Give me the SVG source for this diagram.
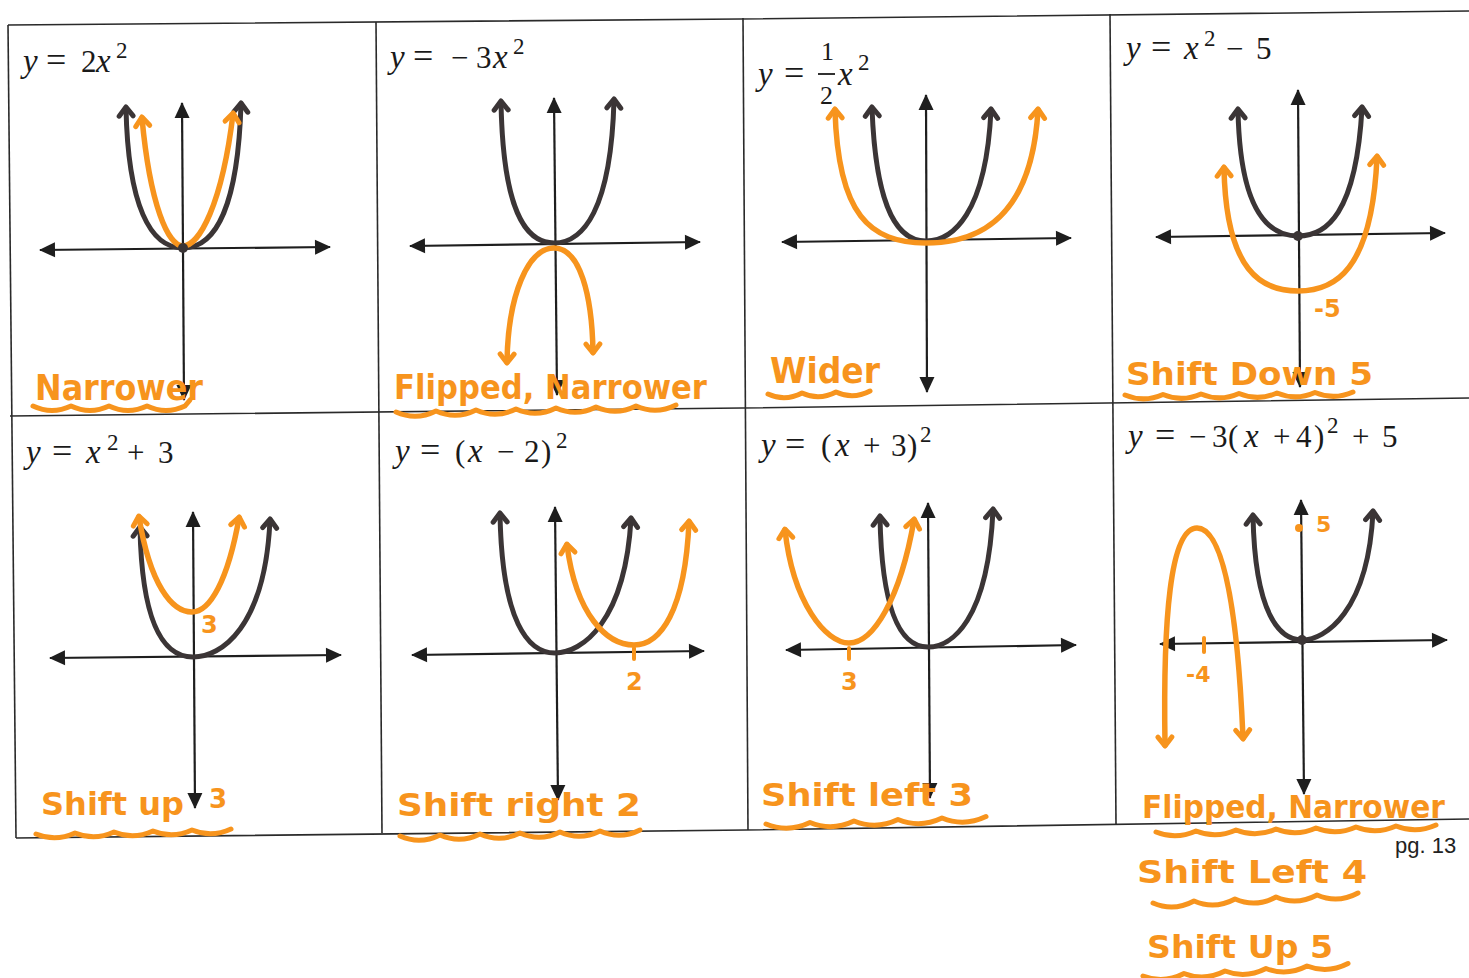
<svg xmlns="http://www.w3.org/2000/svg" width="1469" height="978" viewBox="0 0 1469 978">
<defs>
<style>
.grid{fill:none;stroke:#2a2a2a;stroke-width:1.6}
.ax{fill:none;stroke:#1e1e1e;stroke-width:2.2;marker-start:url(#axh);marker-end:url(#axh)}
.bk{fill:none;stroke:#3b3536;stroke-width:5;stroke-linecap:round;marker-start:url(#chb);marker-end:url(#chb)}
.or{fill:none;stroke:#f7941d;stroke-width:5.5;stroke-linecap:round;marker-start:url(#cho);marker-end:url(#cho)}
.sq{fill:none;stroke:#f7941d;stroke-width:5;stroke-linecap:round;stroke-linejoin:round}
.tk{stroke:#f7941d;stroke-width:4;stroke-linecap:round}
.eq{font-family:"Liberation Serif","DejaVu Serif",serif;font-size:31px;fill:#1a1a1a}
.i{font-style:italic;font-size:33px}
.e{font-size:36px}
.sup{font-size:23px}
.hw{font-family:"DejaVu Sans","Liberation Sans",sans-serif;font-weight:bold;fill:#f7941d}
.pg{font-family:"Liberation Sans","DejaVu Sans",sans-serif;font-size:22px;fill:#222}
</style>
<marker id="axh" markerUnits="userSpaceOnUse" markerWidth="20" markerHeight="20" refX="0" refY="0" orient="auto-start-reverse" overflow="visible"><path d="M1,0 L-15,-7.5 L-15,7.5 Z" fill="#1e1e1e"/></marker>
<marker id="chb" markerUnits="userSpaceOnUse" markerWidth="20" markerHeight="20" refX="0" refY="0" orient="auto-start-reverse" overflow="visible"><path d="M-8,-7 L1,0 L-8,7" fill="none" stroke="#3b3536" stroke-width="5" stroke-linecap="round" stroke-linejoin="round"/></marker>
<marker id="cho" markerUnits="userSpaceOnUse" markerWidth="20" markerHeight="20" refX="0" refY="0" orient="auto-start-reverse" overflow="visible"><path d="M-8,-7 L1,0 L-8,7" fill="none" stroke="#f7941d" stroke-width="5" stroke-linecap="round" stroke-linejoin="round"/></marker>
</defs>
<rect width="1469" height="978" fill="#ffffff"/>

<g id="table">
<polyline class="grid" points="8,25 740,19 1469,11"/>
<polyline class="grid" points="10,416 742,408 1469,398"/>
<polyline class="grid" points="16,838 746,830 1469,819"/>
<line class="grid" x1="8" y1="25" x2="16" y2="838"/>
<line class="grid" x1="376" y1="22" x2="382" y2="833"/>
<line class="grid" x1="743" y1="18" x2="748" y2="830"/>
<line class="grid" x1="1110" y1="14" x2="1116" y2="824"/>
</g>

<g id="cell1">
<text class="eq" y="72"><tspan x="23" class="i">y</tspan><tspan x="46" class="e">=</tspan><tspan x="81">2</tspan><tspan x="96" class="i">x</tspan><tspan x="116" y="58" class="sup">2</tspan></text>
<path class="ax" d="M40,250 L330,247"/>
<path class="ax" d="M182,103 L184,400"/>
<path class="bk" d="M126,108 C128,205 150,248 183,248 C216,248 238,205 241,104"/>
<path class="or" d="M142,118 C150,205 168,246 183,246 C199,246 222,205 233,114"/>
<circle cx="183" cy="248" r="5" fill="#3b3536"/>
<text class="hw" x="35" y="400" font-size="36" textLength="168" lengthAdjust="spacingAndGlyphs">Narrower</text>
<path class="sq" d="M33,406 q19,9 38,0 q19,9 38,0 q19,9 38,0 q19,9 38,0 l5,-6"/>
</g>

<g id="cell2">
<text class="eq" y="68"><tspan x="390" class="i">y</tspan><tspan x="413" class="e">=</tspan><tspan x="451">−</tspan><tspan x="476">3</tspan><tspan x="493" class="i">x</tspan><tspan x="513" y="54" class="sup">2</tspan></text>
<path class="ax" d="M410,246 L700,242"/>
<path class="ax" d="M554,98 L557,395"/>
<path class="bk" d="M501,102 C503,210 525,243 554,243 C583,243 611,210 614,100"/>
<path class="or" d="M507,362 C508,295 528,248 554,248 C580,248 592,295 593,352"/>
<text class="hw" x="394" y="399" font-size="34" textLength="313" lengthAdjust="spacingAndGlyphs">Flipped, Narrower</text>
<path class="sq" d="M396,412 q20,9 40,-1 q20,9 40,-1 q20,9 40,-1 q20,9 40,-1 q20,9 40,-1 q20,9 40,-1 q20,9 40,-1"/>
</g>

<g id="cell3">
<text class="eq" y="85"><tspan x="758" class="i">y</tspan><tspan x="784" class="e">=</tspan><tspan x="821" y="60" font-size="26">1</tspan><tspan x="820" y="104" font-size="26">2</tspan><tspan x="838" y="85" class="i">x</tspan><tspan x="858" y="70" class="sup">2</tspan></text>
<line x1="818" y1="74" x2="835" y2="74" stroke="#1a1a1a" stroke-width="1.8"/>
<path class="ax" d="M782,242 L1071,238"/>
<path class="ax" d="M926,95 L927,392"/>
<path class="bk" d="M872,108 C876,215 900,241 926,241 C952,241 986,215 991,110"/>
<path class="or" d="M835,110 C838,215 870,243 926,243 C982,243 1032,215 1038,110"/>
<text class="hw" x="770" y="383" font-size="36" textLength="110" lengthAdjust="spacingAndGlyphs">Wider</text>
<path class="sq" d="M768,394 q17,8 34,-1 q17,8 34,-1 q17,8 34,-1"/>
</g>

<g id="cell4">
<text class="eq" y="59"><tspan x="1126" class="i">y</tspan><tspan x="1151" class="e">=</tspan><tspan x="1184" class="i">x</tspan><tspan x="1204" y="46" class="sup">2</tspan><tspan x="1226" y="59">−</tspan><tspan x="1256">5</tspan></text>
<path class="ax" d="M1156,237 L1445,233"/>
<path class="ax" d="M1298,90 L1300,387"/>
<path class="bk" d="M1238,110 C1240,215 1270,236 1298,236 C1326,236 1356,215 1362,108"/>
<path class="or" d="M1224,168 C1226,272 1262,291 1298,291 C1334,291 1372,272 1377,157"/>
<circle cx="1298" cy="236" r="5" fill="#3b3536"/>
<text class="hw" x="1314" y="317" font-size="24">-5</text>
<text class="hw" x="1126" y="385" font-size="32" textLength="247" lengthAdjust="spacingAndGlyphs">Shift Down 5</text>
<path class="sq" d="M1125,395 q19,8 38,-0.5 q19,8 38,-0.5 q19,8 38,-0.5 q19,8 38,-0.5 q19,8 38,-0.5 q19,8 38,-0.5"/>
</g>

<g id="cell5">
<text class="eq" y="463"><tspan x="26" class="i">y</tspan><tspan x="52" class="e">=</tspan><tspan x="86" class="i">x</tspan><tspan x="107" y="450" class="sup">2</tspan><tspan x="127" y="463">+</tspan><tspan x="158">3</tspan></text>
<path class="ax" d="M50,658 L341,655"/>
<path class="ax" d="M193,512 L195,808"/>
<path class="bk" d="M140,528 C142,628 165,657 193,657 C221,657 265,628 270,520"/>
<path class="or" d="M139,517 C150,585 172,612 192,612 C210,612 228,580 239,518"/>
<text class="hw" x="201" y="633" font-size="24">3</text>
<text class="hw" x="41" y="815" font-size="32" textLength="143" lengthAdjust="spacingAndGlyphs">Shift up</text>
<text class="hw" x="209" y="808" font-size="26">3</text>
<path class="sq" d="M36,834 q19.5,8 39,-1 q19.5,8 39,-1 q19.5,8 39,-1 q19.5,8 39,-1 q19.5,8 39,-1"/>
</g>

<g id="cell6">
<text class="eq" y="462"><tspan x="395" class="i">y</tspan><tspan x="420" class="e">=</tspan><tspan x="455">(</tspan><tspan x="468" class="i">x</tspan><tspan x="497">−</tspan><tspan x="524">2</tspan><tspan x="541">)</tspan><tspan x="556" y="448" class="sup">2</tspan></text>
<path class="ax" d="M412,655 L704,651"/>
<path class="ax" d="M555,507 L558,800"/>
<path class="bk" d="M500,514 C502,622 528,653 555,653 C582,653 625,622 631,519"/>
<path class="or" d="M567,545 C576,615 607,645 634,645 C660,645 685,612 689,522"/>
<line class="tk" x1="634" y1="648" x2="634" y2="659"/>
<text class="hw" x="626" y="690" font-size="24">2</text>
<text class="hw" x="397" y="816" font-size="32" textLength="244" lengthAdjust="spacingAndGlyphs">Shift right 2</text>
<path class="sq" d="M400,836 q20,9 40,-1 q20,9 40,-1 q20,9 40,-1 q20,9 40,-1 q20,9 40,-1 q20,9 40,-1"/>
</g>

<g id="cell7">
<text class="eq" y="456"><tspan x="761" class="i">y</tspan><tspan x="785" class="e">=</tspan><tspan x="821">(</tspan><tspan x="835" class="i">x</tspan><tspan x="863">+</tspan><tspan x="891">3</tspan><tspan x="907">)</tspan><tspan x="920" y="442" class="sup">2</tspan></text>
<path class="ax" d="M786,650 L1076,645"/>
<path class="ax" d="M928,503 L930,798"/>
<path class="bk" d="M880,517 C882,622 905,647 928,647 C951,647 988,622 993,510"/>
<path class="or" d="M785,530 C793,603 826,643 849,643 C873,643 900,600 914,520"/>
<line class="tk" x1="849" y1="648" x2="849" y2="659"/>
<text class="hw" x="841" y="690" font-size="24">3</text>
<text class="hw" x="761" y="806" font-size="32" textLength="212" lengthAdjust="spacingAndGlyphs">Shift left 3</text>
<path class="sq" d="M766,824 q22,9 44,-1.5 q22,9 44,-1.5 q22,9 44,-1.5 q22,9 44,-1.5 q22,9 44,-1.5"/>
</g>

<g id="cell8">
<text class="eq" y="447"><tspan x="1128" class="i">y</tspan><tspan x="1155" class="e">=</tspan><tspan x="1189">−</tspan><tspan x="1212">3</tspan><tspan x="1228">(</tspan><tspan x="1244" class="i">x</tspan><tspan x="1273">+</tspan><tspan x="1296">4</tspan><tspan x="1314">)</tspan><tspan x="1327" y="433" class="sup">2</tspan><tspan x="1352" y="447">+</tspan><tspan x="1382">5</tspan></text>
<path class="ax" d="M1160,644 L1447,640"/>
<path class="ax" d="M1301,500 L1304,794"/>
<path class="bk" d="M1253,516 C1255,615 1280,640 1302,640 C1325,640 1368,612 1373,512"/>
<path class="or" d="M1165,745 C1163,620 1170,528 1197,528 C1225,528 1238,620 1243,738"/>
<circle cx="1302" cy="640" r="5" fill="#3b3536"/>
<line class="tk" x1="1204" y1="638" x2="1204" y2="652"/>
<text class="hw" x="1186" y="682" font-size="22">-4</text>
<circle cx="1299" cy="528" r="4" fill="#f7941d"/>
<text class="hw" x="1316" y="532" font-size="22">5</text>
<text class="hw" x="1142" y="818" font-size="32" textLength="303" lengthAdjust="spacingAndGlyphs">Flipped, Narrower</text>
<path class="sq" d="M1156,832 q20,8 40,-1 q20,8 40,-1 q20,8 40,-1 q20,8 40,-1 q20,8 40,-1 q20,8 40,-1 q20,8 40,-1"/>
<text class="hw" x="1137" y="883" font-size="32" textLength="230" lengthAdjust="spacingAndGlyphs">Shift Left 4</text>
<path class="sq" d="M1153,903 q20.5,9 41,-2 q20.5,9 41,-2 q20.5,9 41,-2 q20.5,9 41,-2 q20.5,9 41,-2"/>
<text class="hw" x="1147" y="958" font-size="32" textLength="186" lengthAdjust="spacingAndGlyphs">Shift Up 5</text>
<path class="sq" d="M1143,976 q20.5,8 41,-2.5 q20.5,8 41,-2.5 q20.5,8 41,-2.5 q20.5,8 41,-2.5 q20.5,8 41,-2.5"/>
</g>

<text class="pg" x="1395" y="853">pg. 13</text>
</svg>
